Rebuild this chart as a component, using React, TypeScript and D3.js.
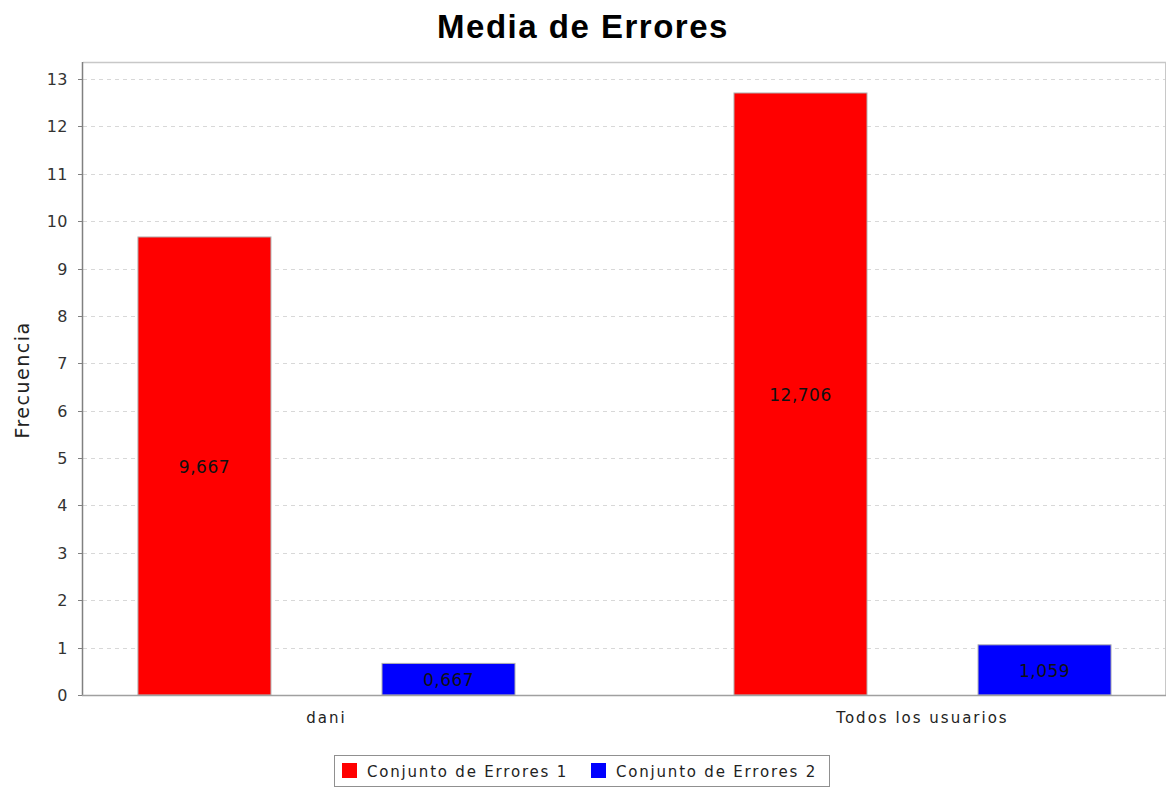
import React from "react";
import * as d3 from "d3";

const categories = ["dani", "Todos los usuarios"];
const seriesNames = ["Conjunto de Errores 1", "Conjunto de Errores 2"];
const seriesColors = ["#ff0000", "#0000ff"];
const series1 = [9.667, 12.706];
const series2 = [0.667, 1.059];
const valueLabels1 = ["9,667", "12,706"];
const valueLabels2 = ["0,667", "1,059"];
const yTicks = [0, 1, 2, 3, 4, 5, 6, 7, 8, 9, 10, 11, 12, 13];

const W = 1167;
const H = 787;
const left = 83;
const right = 1166;
const top = 62;
const bottom = 695;
const font = "'DejaVu Sans', 'Lucida Sans', sans-serif";

export default function App() {
  const y = d3.scaleLinear().domain([0, 13.36]).range([bottom, top]);
  const x0 = d3
    .scaleBand<string>()
    .domain(categories)
    .range([left, right])
    .paddingInner(0.3674)
    .paddingOuter(0.0922);
  const x1 = d3
    .scaleBand<string>()
    .domain(seriesNames)
    .range([0, x0.bandwidth()])
    .paddingInner(0.455)
    .paddingOuter(0);

  const data = [series1, series2];
  const labels = [valueLabels1, valueLabels2];

  return (
    <svg
      width={W}
      height={H}
      style={{ position: "absolute", left: 0, top: 0, background: "#fff" }}
    >
      <rect x={0} y={0} width={W} height={H} fill="#fff" />
      <text
        x={583}
        y={38}
        textAnchor="middle"
        fontFamily="'Liberation Sans', Arial, sans-serif"
        fontWeight="bold"
        fontSize={33}
        letterSpacing={1.5}
        fill="#000"
      >
        Media de Errores
      </text>

      {/* gridlines */}
      {yTicks.map((t) => (
        <line
          key={"g" + t}
          x1={left}
          x2={right}
          y1={Math.round(y(t)) + 0.5}
          y2={Math.round(y(t)) + 0.5}
          stroke="#d8d8d8"
          strokeWidth={1}
          strokeDasharray="4,4"
        />
      ))}

      {/* plot outline */}
      <line x1={left} x2={right} y1={top + 0.5} y2={top + 0.5} stroke="#c8c8c8" strokeWidth={1.5} />
      <line x1={right - 0.5} x2={right - 0.5} y1={top} y2={bottom} stroke="#c8c8c8" strokeWidth={1} />

      {/* bars */}
      {categories.map((c, ci) =>
        seriesNames.map((s, si) => {
          const v = data[si][ci];
          const bx = (x0(c) ?? 0) + (x1(s) ?? 0);
          const bw = x1.bandwidth();
          const by = y(v);
          return (
            <g key={c + s}>
              <rect
                x={bx}
                y={by}
                width={bw}
                height={bottom - by}
                fill={seriesColors[si]}
                stroke="#b0b0b0"
                strokeWidth={1}
              />
              <text
                x={bx + bw / 2}
                y={(by + bottom) / 2 + 7}
                textAnchor="middle"
                fontFamily={font}
                fontSize={17}
                letterSpacing={0.5}
                fill="#111"
              >
                {labels[si][ci]}
              </text>
            </g>
          );
        })
      )}

      {/* axes */}
      <line x1={left - 0.5} x2={left - 0.5} y1={top} y2={bottom + 1} stroke="#808080" strokeWidth={1.5} />
      <line x1={left - 1} x2={right} y1={bottom + 0.5} y2={bottom + 0.5} stroke="#a0a0a0" strokeWidth={1.5} />
      {yTicks.map((t) => (
        <g key={"t" + t}>
          <line
            x1={left - 5}
            x2={left - 1}
            y1={Math.round(y(t)) + 0.5}
            y2={Math.round(y(t)) + 0.5}
            stroke="#808080"
          />
          <text
            x={68}
            y={y(t) + 6}
            textAnchor="end"
            fontFamily={font}
            fontSize={16}
            letterSpacing={0.5}
            fill="#333"
          >
            {t}
          </text>
        </g>
      ))}

      {categories.map((c) => (
        <text
          key={"c" + c}
          x={(x0(c) ?? 0) + x0.bandwidth() / 2}
          y={723}
          textAnchor="middle"
          fontFamily={font}
          fontSize={15}
          letterSpacing={2}
          fill="#222"
        >
          {c}
        </text>
      ))}

      <text
        transform={`translate(29,380) rotate(-90)`}
        textAnchor="middle"
        fontFamily={font}
        fontSize={19}
        letterSpacing={1.5}
        fill="#222"
      >
        Frecuencia
      </text>

      {/* legend */}
      <rect x={334.5} y={755.5} width={495} height={31} fill="#fff" stroke="#909090" strokeWidth={1} />
      {seriesNames.map((s, i) => {
        const lx = i === 0 ? 342 : 591;
        return (
          <g key={"l" + s}>
            <rect x={lx} y={763} width={15} height={15} fill={seriesColors[i]} />
            <text
              x={lx + 25}
              y={777}
              fontFamily={font}
              fontSize={15}
              letterSpacing={1.8}
              fill="#222"
            >
              {s}
            </text>
          </g>
        );
      })}
    </svg>
  );
}
